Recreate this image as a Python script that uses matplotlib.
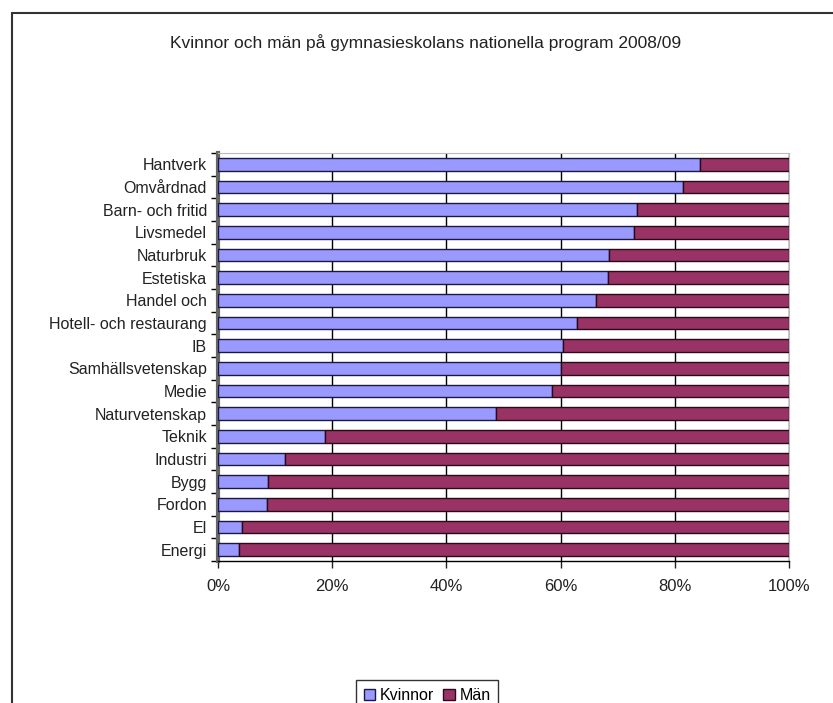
import numpy as np
import matplotlib
matplotlib.use("Agg")
import matplotlib.pyplot as plt
from matplotlib.patches import Rectangle

plt.rcParams['font.family'] = ['Liberation Sans', 'DejaVu Sans']

# programs, top to bottom as in the chart
programs = ["Hantverk", "Omvårdnad", "Barn- och fritid", "Livsmedel", "Naturbruk",
            "Estetiska", "Handel och", "Hotell- och restaurang", "IB",
            "Samhällsvetenskap", "Medie", "Naturvetenskap", "Teknik", "Industri",
            "Bygg", "Fordon", "El", "Energi"]
# share of women (percent)
kvinnor = [84.5, 81.4, 73.3, 72.9, 68.4, 68.3, 66.2, 62.9, 60.4,
           60.1, 58.5, 48.6, 18.7, 11.8, 8.8, 8.5, 4.2, 3.7]
man = [100 - k for k in kvinnor]

title = "Kvinnor och män på gymnasieskolans nationella program 2008/09"
c_kv = "#9999FF"
c_man = "#993366"

fig = plt.figure(figsize=(8.33, 7.03), dpi=100)
ax = fig.add_axes([218/833, 1-561/703, (789-218)/833, (561-153)/703])

# outer chart border (top and left visible)
fig.patches.append(Rectangle((12/833, -0.1), 1.2, 1-13/703+0.1, transform=fig.transFigure,
                             fill=False, edgecolor="#333333", linewidth=1.5))

y = np.arange(len(programs))[::-1]
ax.barh(y, kvinnor, height=0.57, color=c_kv, edgecolor="#1a1a40", linewidth=1, label="Kvinnor", zorder=3)
ax.barh(y, man, left=kvinnor, height=0.57, color=c_man, edgecolor="#2a0a18", linewidth=1, label="Män", zorder=3)

ax.set_xlim(0, 100)
ax.set_ylim(-0.5, len(programs) - 0.5)
ax.set_xticks(np.arange(0, 101, 20))
ax.set_xticklabels([f"{v}%" for v in range(0, 101, 20)])
ax.set_yticks(y)
ax.set_yticklabels(programs)
ax.set_yticks(np.arange(-0.5, len(programs), 1), minor=True)
ax.tick_params(axis="y", which="major", length=0, pad=8, labelsize=11.5, colors="#222222")
ax.tick_params(axis="y", which="minor", length=5, width=1, direction="out")
ax.tick_params(axis="x", length=5, width=1, direction="out", pad=8, labelsize=12, colors="#222222")
ax.xaxis.grid(True, color="black", linewidth=1, zorder=0)
ax.set_axisbelow(True)

for s in ["top", "right"]:
    ax.spines[s].set_color("#bbbbbb")
ax.spines["left"].set_color("#666666")
ax.spines["left"].set_linewidth(3)
ax.spines["bottom"].set_linewidth(1)

fig.text(426/833, 1-43/703, title, ha="center", va="center", fontsize=12.5, color="#222222")

leg = fig.legend(loc="upper center", bbox_to_anchor=(427/833, 1-672/703), ncol=2,
                 frameon=True, fancybox=False, edgecolor="black", fontsize=11.5,
                 handlelength=0.7, handleheight=0.7, handletextpad=0.3, columnspacing=0.6,
                 borderpad=0.5)
leg.get_frame().set_linewidth(1)

fig.savefig("out.png", dpi=100)
